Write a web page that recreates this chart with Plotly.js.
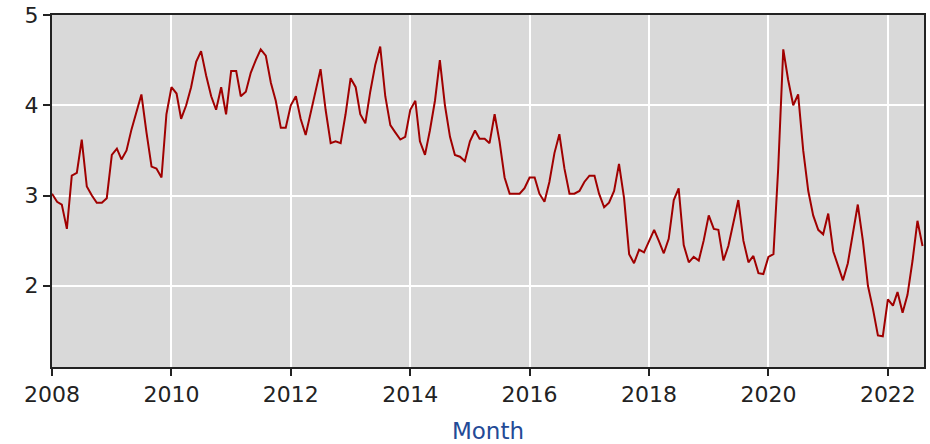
<!DOCTYPE html>
<html>
<head>
<meta charset="utf-8">
<script src="https://cdn.plot.ly/plotly-3.0.1.min.js"></script>
<style>html,body{margin:0;padding:0;background:#fff;}#chart{width:930px;height:444px;}</style>
</head>
<body>
<div id="chart"></div>
<script>
// Monthly values, Jan 2008 .. Aug 2022
const startYear = 2008;
const values2008 = [3.02, 2.93, 2.9, 2.63, 3.22, 3.25, 3.62, 3.1, 3.0, 2.92, 2.92, 2.97];
const values2009 = [3.45, 3.52, 3.4, 3.5, 3.73, 3.92, 4.12, 3.7, 3.32, 3.3, 3.2, 3.9];
const values2010 = [4.2, 4.13, 3.85, 4.0, 4.2, 4.48, 4.6, 4.33, 4.1, 3.95, 4.2, 3.9];
const values2011 = [4.38, 4.38, 4.1, 4.15, 4.36, 4.5, 4.62, 4.55, 4.25, 4.05, 3.75, 3.75];
const values2012 = [4.0, 4.1, 3.85, 3.67, 3.9, 4.15, 4.4, 3.95, 3.58, 3.6, 3.58, 3.9];
const values2013 = [4.3, 4.2, 3.9, 3.8, 4.15, 4.45, 4.65, 4.1, 3.78, 3.7, 3.62, 3.65];
const values2014 = [3.95, 4.05, 3.6, 3.45, 3.72, 4.05, 4.5, 4.0, 3.65, 3.45, 3.43, 3.38];
const values2015 = [3.6, 3.72, 3.63, 3.63, 3.58, 3.9, 3.6, 3.2, 3.02, 3.02, 3.02, 3.08];
const values2016 = [3.2, 3.2, 3.02, 2.93, 3.15, 3.47, 3.68, 3.3, 3.02, 3.02, 3.05, 3.15];
const values2017 = [3.22, 3.22, 3.02, 2.87, 2.92, 3.05, 3.35, 2.97, 2.35, 2.25, 2.4, 2.37];
const values2018 = [2.5, 2.62, 2.5, 2.36, 2.52, 2.95, 3.08, 2.45, 2.26, 2.32, 2.28, 2.5];
const values2019 = [2.78, 2.63, 2.62, 2.28, 2.44, 2.72, 2.95, 2.5, 2.26, 2.33, 2.14, 2.13];
const values2020 = [2.32, 2.35, 3.3, 4.62, 4.28, 4.0, 4.12, 3.5, 3.05, 2.78, 2.62, 2.57];
const values2021 = [2.8, 2.38, 2.22, 2.06, 2.25, 2.6, 2.9, 2.5, 2.0, 1.75, 1.45, 1.44];
const values2022 = [1.85, 1.78, 1.93, 1.7, 1.9, 2.28, 2.72, 2.44];

const yearly = [values2008, values2009, values2010, values2011, values2012, values2013, values2014,
  values2015, values2016, values2017, values2018, values2019, values2020, values2021, values2022];

const xTickYears = [2008, 2010, 2012, 2014, 2016, 2018, 2020, 2022];
const yTickVals = [2, 3, 4, 5];

const dates = [];
const vals = [];
yearly.forEach((arr, i) => {
  arr.forEach((v, m) => {
    const mm = String(m + 1).padStart(2, '0');
    dates.push((startYear + i) + '-' + mm + '-01');
    vals.push(v);
  });
});

const trace = {
  x: dates, y: vals, type: 'scatter', mode: 'lines',
  line: {color: '#a00000', width: 2}, hoverinfo: 'x+y'
};

const layout = {
  width: 930, height: 444,
  margin: {l: 52, r: 6, t: 15, b: 77},
  paper_bgcolor: '#ffffff', plot_bgcolor: '#d9d9d9',
  showlegend: false,
  font: {family: 'DejaVu Sans, sans-serif', size: 22, color: '#222'},
  xaxis: {
    type: 'date', range: ['2008-01-01', '2022-08-10'],
    tickvals: xTickYears.map(y => y + '-01-01'),
    ticktext: xTickYears.map(String),
    showgrid: true, gridcolor: '#ffffff', gridwidth: 2,
    showline: true, linecolor: '#222', linewidth: 2, mirror: true,
    ticks: 'outside', ticklen: 7, tickcolor: '#222', tickwidth: 2,
    tickfont: {size: 22, color: '#222'}, zeroline: false,
    title: {text: 'Month', font: {size: 23, color: '#234a96'}, standoff: 17}
  },
  yaxis: {
    range: [1.1, 5.0], tickvals: yTickVals, ticktext: yTickVals.map(String),
    showgrid: true, gridcolor: '#ffffff', gridwidth: 2,
    showline: true, linecolor: '#222', linewidth: 2, mirror: true,
    ticks: 'outside', ticklen: 7, tickcolor: '#222', tickwidth: 2,
    tickfont: {size: 22, color: '#222'}, zeroline: false
  }
};

Plotly.newPlot('chart', [trace], layout, {displayModeBar: false, staticPlot: true});
</script>
</body>
</html>
